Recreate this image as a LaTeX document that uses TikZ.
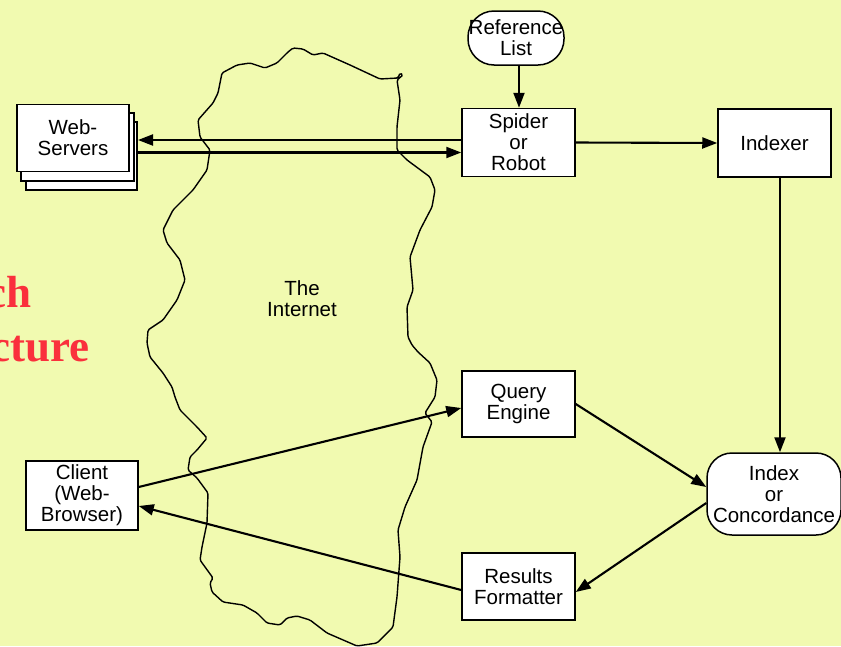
\documentclass[tikz,border=0pt]{standalone}
\usepackage{fontspec}
\setmainfont{Liberation Sans}
\newfontfamily\titlefont{Liberation Serif}
\usetikzlibrary{arrows.meta}
\definecolor{bgcol}{RGB}{241,250,176}
\definecolor{titlered}{RGB}{250,48,60}
\tikzset{
  box/.style={draw=black, line width=1.5pt, fill=white, inner sep=0pt, align=center,
    font=\fontsize{20.5}{21}\selectfont},
  flowbox/.style={box, minimum width=113pt, minimum height=67pt},
  roundbox/.style={box, rounded corners=26pt},
  conn/.style={line width=2.1pt, -{Triangle[length=15pt,width=11pt]}},
  cloudline/.style={draw=black, line width=1.4pt, line join=round, rounded corners=1.5pt},
  lbl/.style={align=center, inner sep=0pt, font=\fontsize{20.5}{21}\selectfont},
  titletext/.style={text=titlered, inner sep=0pt, font=\titlefont\bfseries\fontsize{45}{52}\selectfont}
}
\begin{document}
\begin{tikzpicture}[x=1pt,y=-1pt]
\useasboundingbox (0,0) rectangle (841,646);
\clip (0,0) rectangle (841,646);
\fill[bgcol] (0,0) rectangle (841,646);

% title fragments
\node[titletext, anchor=base east] (t1) at (32,307) {ch};
\node[titletext, anchor=base east] (t2) at (90,361) {cture};

% the internet cloud
\draw[cloudline] (222,73) -- (237,65) -- (250,63) -- (265,68) -- (277,63) -- (288,52) -- (293,48) -- (303,49) -- (313,55) -- (323,53) -- (350,65) -- (380,79) -- (398,78) -- (400,73) -- (403,75) -- (397,80) -- (400,100) -- (397,127) -- (397,150) -- (407,160) -- (430,177) -- (435,190) -- (432,207) -- (420,230) -- (410,257) -- (413,290) -- (407,307) -- (408,337) -- (412,345) -- (418,352) -- (430,363) -- (437,380) -- (435,397) -- (425,413) -- (432,422) -- (423,447) -- (417,480) -- (405,507) -- (398,530) -- (400,557) -- (397,597) -- (393,627) -- (377,643) -- (357,646) -- (327,633) -- (310,620) -- (297,616) -- (287,618) -- (280,625) -- (267,623) -- (257,613) -- (243,605) -- (223,602) -- (212,592) -- (210,583) -- (213,578) -- (200,560) -- (202,547) -- (207,523) -- (208,493) -- (197,478) -- (188,470) -- (190,457) -- (197,450) -- (207,438) -- (197,427) -- (180,410) -- (175,397) -- (172,387) -- (163,373) -- (150,357) -- (147,343) -- (148,330) -- (163,320) -- (177,300) -- (185,280) -- (180,260) -- (167,243) -- (163,230) -- (173,210) -- (193,190) -- (207,170) -- (210,150) -- (200,137) -- (198,120) -- (213,103) -- (218,93) -- cycle;
\node[lbl] (internet) at (302,299) {The\\Internet};

% web servers stack
\node[box, minimum width=111pt, minimum height=68pt] (ws3) at (81.5,156) {};
\node[box, minimum width=113pt, minimum height=68pt] (ws2) at (77.5,147) {};
\node[box, minimum width=112pt, minimum height=67pt] (ws) at (73,138) {Web-\\Servers};
\coordinate (wsin) at (138,140);
\coordinate (wsout) at (137,152.5);

% main nodes
\node[roundbox, minimum width=96pt, minimum height=54pt] (reflist) at (516,38) {Reference\\List};
\node[flowbox, minimum height=68pt] (spider) at (518.5,142.5) {Spider\\or\\Robot};
\node[flowbox, minimum height=68pt] (indexer) at (774.5,143) {Indexer};
\node[flowbox, minimum height=66pt] (query) at (518.5,404) {Query\\Engine};
\node[flowbox] (results) at (518.5,586.5) {Results\\Formatter};
\node[box, minimum width=112pt, minimum height=69pt] (client) at (82,495.5) {Client\\(Web-\\Browser)};
\node[roundbox, rounded corners=25pt, minimum width=134pt, minimum height=82pt] (index) at (774,494) {Index\\or\\Concordance};

% connectors
\draw[conn] ([xshift=3pt]reflist.south) -- ([xshift=0.5pt]spider.north);
\draw[conn] ([yshift=2.5pt]spider.west) -- (wsin);
\draw[conn] (wsout) -- ([yshift=-10pt]spider.west);
\draw[conn] (spider.east) -- (indexer.west);
\draw[conn] ([xshift=5.5pt]indexer.south) -- ([xshift=6pt]index.north);
\draw[conn] ([yshift=8.5pt]client.east) -- ([yshift=-4pt]query.west);
\draw[conn] ([yshift=-3.5pt]results.west) -- ([yshift=-10.5pt]client.east);
\draw[conn] (query.east) -- ([yshift=7pt]index.west);
\draw[conn] ([yshift=-9pt]index.west) -- ([yshift=-5.5pt]results.east);
\end{tikzpicture}
\end{document}
